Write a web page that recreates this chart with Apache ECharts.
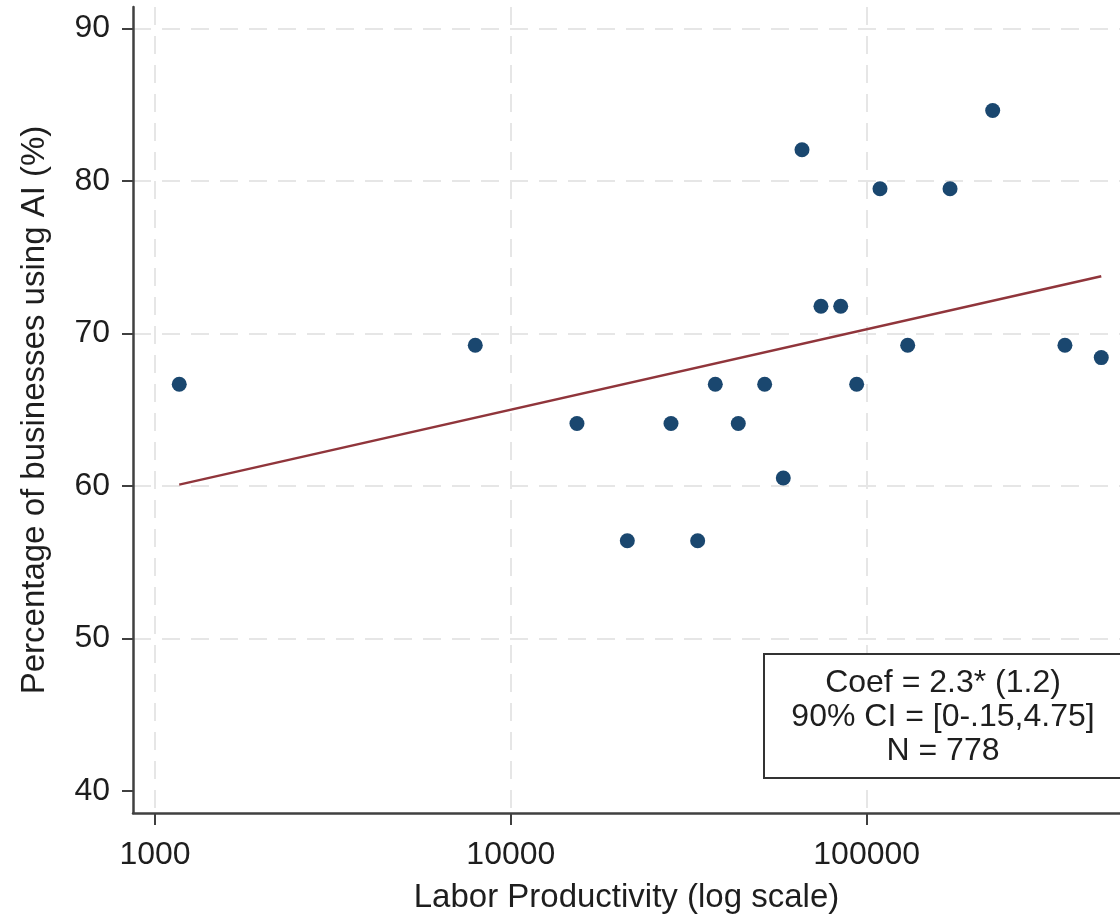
<!DOCTYPE html>
<html>
<head>
<meta charset="utf-8">
<title>AI adoption vs labor productivity</title>
<script src="https://cdn.jsdelivr.net/npm/echarts@6/dist/echarts.min.js"></script>
<style>
  html, body { margin: 0; padding: 0; background: #fff; }
  #chart { width: 1120px; height: 919px; }
</style>
</head>
<body>
<div id="chart"></div>
<script>
// Binned scatter: labor productivity (bin mean) vs share of firms using AI
const productivity = [1170, 7945, 15340, 21250, 28190, 33500, 37550, 43570, 51680, 58300,
                      65800, 74390, 84530, 93730, 109000, 130400, 171500, 226000, 360700, 456300];
const aiShare = [66.67, 69.23, 64.10, 56.41, 64.10, 56.41, 66.67, 64.10, 66.67, 60.53,
                 82.05, 71.79, 71.79, 66.67, 79.49, 69.23, 79.49, 84.62, 69.23, 68.42];

// Linear fit on log productivity, evaluated at the range ends
const fitX = [1170, 456300];
const fitY = [60.09, 73.75];

const xTicks = [1000, 10000, 100000];
const yTicks = [40, 50, 60, 70, 80, 90];
const yGridTicks = [50, 60, 70, 80, 90];

const statLines = ['Coef = 2.3* (1.2)', '90% CI = [0-.15,4.75]', 'N = 778'];

const FONT = '"Liberation Sans", Arial, sans-serif';
const TEXT = '#1e1e1e';
const AXIS = '#404040';
const GRID = '#e6e6e6';

const chart = echarts.init(document.getElementById('chart'), null, { renderer: 'canvas' });

const gridSplit = { show: true, lineStyle: { color: GRID, width: 2, type: [18, 11] } };

chart.setOption({
  animation: false,
  backgroundColor: '#ffffff',
  textStyle: { fontFamily: FONT },
  grid: { left: 133, right: 0, top: 7, bottom: 105, containLabel: false },
  xAxis: {
    type: 'log',
    logBase: 10,
    min: 867.4,
    max: 515100,
    name: 'Labor Productivity (log scale)',
    nameLocation: 'middle',
    nameGap: 68,
    nameTextStyle: { fontSize: 33, color: TEXT, fontFamily: FONT },
    axisLine: { show: true, onZero: false, lineStyle: { color: AXIS, width: 2.5 } },
    axisTick: { show: true, length: 12, lineStyle: { color: AXIS, width: 2 }, customValues: xTicks },
    axisLabel: {
      customValues: xTicks, fontSize: 32, color: TEXT, margin: 26, fontFamily: FONT,
      formatter: v => String(Math.round(v))
    },
    splitLine: gridSplit
  },
  yAxis: [{
    type: 'value',
    min: 38.56,
    max: 91.41,
    name: 'Percentage of businesses using AI (%)',
    nameLocation: 'middle',
    nameGap: 82,
    nameTextStyle: { fontSize: 33, color: TEXT, fontFamily: FONT },
    axisLine: { show: true, onZero: false, lineStyle: { color: AXIS, width: 2.5 } },
    axisTick: { show: true, length: 11, lineStyle: { color: AXIS, width: 2 }, customValues: yTicks },
    axisLabel: { customValues: yTicks, fontSize: 32, color: TEXT, margin: 23, fontFamily: FONT },
    splitLine: { show: false }
  }, {
    // gridlines only (none at the bottom tick)
    type: 'value',
    position: 'left',
    min: 38.56,
    max: 91.41,
    axisLine: { show: false },
    axisTick: { show: false, customValues: yGridTicks },
    axisLabel: { show: false, customValues: yGridTicks },
    splitLine: gridSplit
  }],
  series: [{
    type: 'line',
    data: fitX.map((x, i) => [x, fitY[i]]),
    showSymbol: false,
    symbol: 'none',
    lineStyle: { color: '#90353b', width: 2.5 },
    z: 2
  }, {
    type: 'scatter',
    data: productivity.map((x, i) => [x, aiShare[i]]),
    symbol: 'circle',
    symbolSize: 15,
    itemStyle: { color: '#1a476f', opacity: 1 },
    z: 3
  }],
  graphic: [{
    type: 'rect',
    left: 763,
    top: 653,
    shape: { width: 362, height: 124 },
    style: { fill: '#ffffff', stroke: '#333333', lineWidth: 2 },
    z: 10
  }, {
    type: 'text',
    x: 943,
    y: 717,
    style: {
      text: statLines.join('\n'),
      font: '32px ' + FONT,
      fill: TEXT,
      align: 'center',
      verticalAlign: 'middle',
      lineHeight: 34
    },
    z: 11
  }]
});
</script>
</body>
</html>
